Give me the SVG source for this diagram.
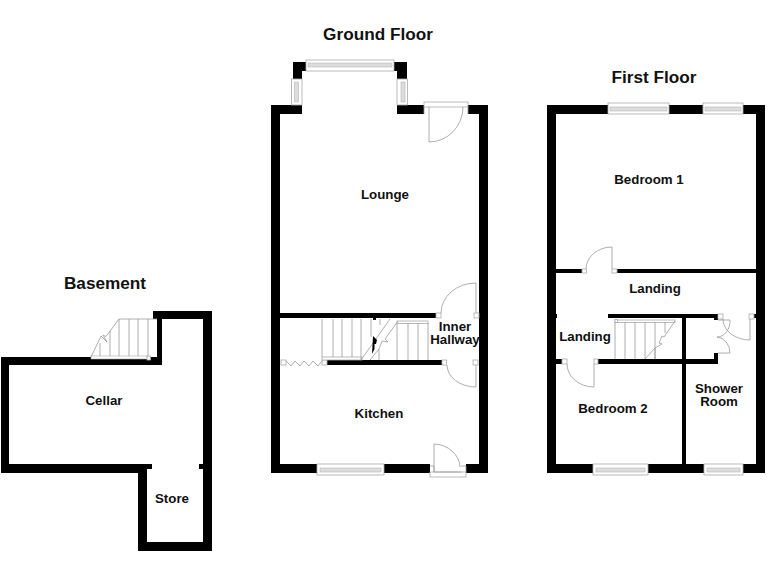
<svg xmlns="http://www.w3.org/2000/svg" width="768" height="576" viewBox="0 0 768 576">
<style>
.w{fill:#000}
.f{fill:#fff;stroke:#aaa;stroke-width:.8}
.l{fill:none;stroke:#999;stroke-width:.8}
.g{fill:#ddd;stroke:#aaa;stroke-width:.5}
text{font-family:"Liberation Sans",Arial,sans-serif;font-weight:bold;fill:#111;text-anchor:middle}
.t{font-size:17.200px}
.r{font-size:13.300px}
</style>
<rect width="768" height="576" fill="#fff"/>
<g id="basement">
<g class="w">
<rect x="1" y="357" width="161" height="8"/><rect x="1" y="357" width="8" height="116"/><rect x="1" y="464" width="146" height="9"/><rect x="147" y="464" width="5" height="5"/>
<rect x="138" y="464" width="9" height="87"/><rect x="138" y="542" width="74" height="9"/><rect x="203" y="311" width="9" height="240"/><rect x="153" y="311" width="59" height="8"/><rect x="157" y="311" width="5" height="54"/><rect x="199" y="464" width="4" height="5"/>
</g>
<g id="basement-stairs">
<rect x="91" y="356" width="57" height="3" fill="#fff" stroke="#aaa" stroke-width=".6"/>
<rect x="147" y="356" width="3.500" height="4" class="f"/>
<path class="l" d="M157 319H119L106 336.500L103 335L107 342L101 336L91 357M100 343V356M110 331V356M119 319V356M129 319V356M138 319V356M148 319V356"/>
</g>
</g>
<g id="ground-floor">
<g class="w">
<rect x="271" y="105" width="9" height="368"/><rect x="271" y="105" width="31" height="9"/><rect x="293" y="62" width="13" height="9"/><rect x="293" y="62" width="9" height="17"/>
<rect x="394" y="62" width="13" height="9"/><rect x="397" y="62" width="10" height="17"/><rect x="397" y="105" width="27" height="9"/><rect x="468" y="105" width="20" height="9"/><rect x="479" y="105" width="9" height="368"/>
<rect x="271" y="464" width="159" height="9"/><rect x="466" y="464" width="22" height="9"/><rect x="280" y="313" width="156" height="5"/><rect x="327" y="360" width="115" height="5"/>
</g>
<g id="ground-windows">
<rect x="306" y="60" width="88" height="11" class="f"/><rect x="308" y="63" width="84" height="4" class="g"/>
<rect x="291.500" y="79" width="10.500" height="26" class="f"/><rect x="294.500" y="82" width="4" height="20" class="g"/>
<rect x="397" y="79" width="10.500" height="26" class="f"/><rect x="401" y="82" width="4" height="20" class="g"/>
<rect x="424" y="102" width="44" height="5" class="f"/>
<rect x="317" y="464" width="67" height="11" class="f"/><rect x="320" y="468" width="61" height="4" class="g"/>
<rect x="430" y="472" width="36" height="5" class="f"/>
</g>
<g id="ground-doors">
<path class="l" d="M424 107V114M468 107V114M429 107V142A34 35 0 0 0 463 107"/>
<rect x="436" y="313" width="5" height="5" class="f"/><rect x="474" y="313" width="5" height="5" class="f"/>
<path class="l" d="M476 313V283A35 30 0 0 0 441 313"/>
<rect x="442" y="360" width="4.500" height="5" class="f"/><rect x="473" y="360" width="5" height="5" class="f"/>
<path class="l" d="M476 365V387A29 22 0 0 1 447 365"/>
<rect x="281" y="360" width="5" height="5" class="f"/><rect x="322" y="360" width="5" height="5" class="f"/>
<path class="l" d="M286 361L291 366L295 361L300 366L304 361L309 366L313 361L318 366L322 361"/>
<path class="l" d="M434 472V444A27 24 0 0 1 460 467M430 466H434V472M461 466H466V472M434 472H461"/>
</g>
<g id="ground-stairs">
<rect x="322" y="357" width="40" height="3" class="f"/>
<rect x="397" y="321" width="31" height="2.500" class="f"/>
<path class="l" d="M322 319V357M333 319V357M342 319V357M352 319V357M361 319V360M390 319L361 360M371 319V337M380 319V325M398 321L385 339L388 342L382 341L379 349L370 360M379 349V360M397 323V360M408 323V360M418 323V360M428 323V360"/>
<path class="w" d="M373 336L377 340L376 344H374.500V349L372 354ZM373 318H376V320H373Z"/>
</g>
</g>
<g id="first-floor">
<g class="w">
<rect x="547" y="105" width="9" height="368"/><rect x="756" y="105" width="9" height="368"/>
<rect x="547" y="105" width="61" height="9"/><rect x="669" y="105" width="34" height="9"/><rect x="743" y="105" width="22" height="9"/>
<rect x="547" y="464" width="46" height="9"/><rect x="648" y="464" width="56" height="9"/><rect x="743" y="464" width="22" height="9"/>
<rect x="556" y="269" width="26" height="4"/><rect x="617" y="269" width="139" height="4"/>
<rect x="608" y="314" width="110" height="4"/><rect x="714" y="318" width="4" height="2"/><rect x="682" y="314" width="4" height="150"/>
<rect x="598" y="359" width="120" height="5"/><rect x="714" y="353" width="4" height="6"/><rect x="556" y="359" width="6" height="5"/>
<rect x="754" y="314" width="2" height="4"/><rect x="556" y="314" width="1" height="4"/>
</g>
<g id="first-windows">
<rect x="608" y="103" width="61" height="11" class="f"/><rect x="610" y="107" width="57" height="4" class="g"/>
<rect x="703" y="103" width="40" height="11" class="f"/><rect x="705" y="107" width="36" height="4" class="g"/>
<rect x="593" y="464" width="55" height="11" class="f"/><rect x="596" y="468" width="49" height="4" class="g"/>
<rect x="704" y="464" width="39" height="11" class="f"/><rect x="707" y="468" width="33" height="4" class="g"/>
</g>
<g id="first-doors">
<rect x="582" y="269" width="4.500" height="4" class="f"/><rect x="612" y="269" width="5" height="4" class="f"/>
<path class="l" d="M612 269V247A26 22 0 0 0 586 269"/>
<rect x="562" y="359" width="5" height="5" class="f"/><rect x="594" y="359" width="4" height="5" class="f"/>
<path class="l" d="M594 364V387A27 23 0 0 1 567 364"/>
<rect x="718" y="314" width="5" height="5" class="f"/><rect x="749" y="314" width="5" height="5" class="f"/>
<path class="l" d="M750 319V340A27 21 0 0 1 723 319M718 320H730A13 16 0 0 1 717 337M717 337A14 16 0 0 1 730 353H718"/>
</g>
<g id="first-stairs">
<rect x="615" y="320" width="60" height="2.500" class="f"/><rect x="615" y="319.500" width="2.500" height="3" class="f"/>
<path class="l" d="M615 322V359M625 322V359M635 322V359M645 322V359M655 322V359M665 322V333M675 321L664 337L662 336L659 343L662 344L655 348L645 359M655 348V359"/>
</g>
</g>
<g id="labels">
<text class="t" x="378" y="40">Ground Floor</text>
<text class="t" x="654" y="83">First Floor</text>
<text class="t" x="105" y="289">Basement</text>
<text class="r" x="385" y="199">Lounge</text>
<text class="r" x="379" y="418">Kitchen</text>
<text class="r" x="455" y="331"><tspan x="455">Inner</tspan><tspan x="455" dy="13">Hallway</tspan></text>
<text class="r" x="649" y="184">Bedroom 1</text>
<text class="r" x="655" y="293">Landing</text>
<text class="r" x="585" y="341">Landing</text>
<text class="r" x="613" y="413">Bedroom 2</text>
<text class="r" x="719" y="393"><tspan x="719">Shower</tspan><tspan x="719" dy="13">Room</tspan></text>
<text class="r" x="104" y="405">Cellar</text>
<text class="r" x="172" y="503">Store</text>
</g>
</svg>
